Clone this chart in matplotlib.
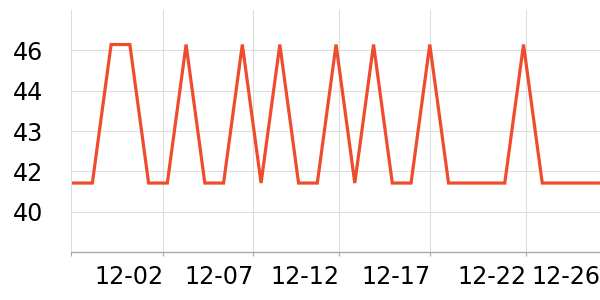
import matplotlib
matplotlib.use("Agg")
import matplotlib.pyplot as plt

# =========================
# Data
# =========================
# one reading per day, index 0 .. 28
day_idx = list(range(29))
values = [
    41.2, 41.2, 46.0, 46.0, 41.2, 41.2, 46.0, 41.2, 41.2, 46.0,
    41.2, 46.0, 41.2, 41.2, 46.0, 41.2, 46.0, 41.2, 41.2, 46.0,
    41.2, 41.2, 41.2, 41.2, 46.0, 41.2, 41.2, 41.2, 41.2,
]

# x ticks (in day index units) and their labels
x_ticks = [-0.15, 4.79, 9.59, 14.18, 19.03, 24.15, 28.08]
x_tick_labels = ["", "12-02", "12-07", "12-12", "12-17", "12-22", "12-26"]

# y ticks, shown rounded to integers
y_ticks = [40.2, 41.6, 43.0, 44.4, 45.8]
y_limits = (38.8, 47.2)

# =========================
# Figure
# =========================
fig = plt.figure(figsize=(6, 3), dpi=100)
ax = fig.add_axes([0.118, 0.159, 0.882, 0.808])

ax.plot(day_idx, values, color="#ef4b2d", linewidth=2.3,
        solid_joinstyle="miter", zorder=3)

ax.set_xlim(x_ticks[0], x_ticks[-1])
ax.set_ylim(*y_limits)

ax.set_xticks(x_ticks)
ax.set_xticklabels(x_tick_labels, ha="right")
ax.set_yticks(y_ticks)
ax.set_yticklabels([f"{v:.0f}" for v in y_ticks])

ax.grid(True, color="#dddddd", linewidth=0.8)
ax.set_axisbelow(True)

for side in ["top", "right", "left"]:
    ax.spines[side].set_visible(False)
ax.spines["bottom"].set_color("#aaaaaa")
ax.spines["bottom"].set_linewidth(1.0)

ax.tick_params(axis="x", length=3, color="#aaaaaa", pad=6, labelsize=17.2)
ax.tick_params(axis="y", length=0, pad=20, labelsize=17.2)

fig.savefig("out.png", dpi=100)
